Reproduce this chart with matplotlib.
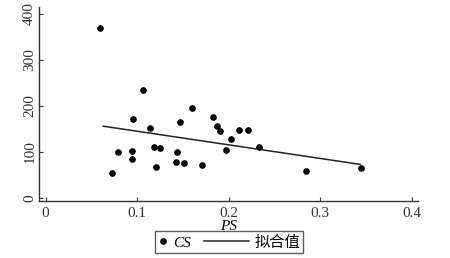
import numpy as np
import matplotlib
matplotlib.use('Agg')
import matplotlib.pyplot as plt
from matplotlib.lines import Line2D
from matplotlib.legend_handler import HandlerLine2D

# CS vs PS scatter values
ps = [0.060, 0.073, 0.079, 0.095, 0.095, 0.096, 0.106, 0.114, 0.119, 0.125,
      0.121, 0.144, 0.143, 0.151, 0.171, 0.147, 0.160, 0.183, 0.187, 0.191,
      0.212, 0.221, 0.203, 0.197, 0.233, 0.285, 0.345]
cs = [370, 54, 99, 103, 84, 172, 235, 153, 110, 108,
      68, 100, 78, 77, 72, 165, 196, 175, 157, 146,
      147, 147, 128, 104, 110, 59, 65]

# fitted line end points
fit_x = [0.063, 0.344]
fit_y = [156, 73]

x_ticks = [0, 0.1, 0.2, 0.3, 0.4]
x_labels = ['0', '0.1', '0.2', '0.3', '0.4']
y_ticks = [0, 100, 200, 300, 400]


# legend line handle that reaches back into the column gap (long line, short dot)
class WideLine(HandlerLine2D):
    def create_artists(self, legend, orig_handle, xdescent, ydescent,
                       width, height, fontsize, trans):
        ext = 2.3 * fontsize
        y = (height - ydescent) / 2
        ln = Line2D([-xdescent - ext, -xdescent + width], [y, y],
                    color=orig_handle.get_color(),
                    linewidth=orig_handle.get_linewidth())
        ln.set_transform(trans)
        return [ln]


plt.rcParams['font.family'] = ['Liberation Serif', 'Noto Sans CJK SC']

fig = plt.figure(figsize=(4.5, 2.58), dpi=100)
ax = fig.add_axes([0.0867, 0.221, 0.842, 0.752])

pts, = ax.plot(ps, cs, linestyle='none', marker='o', markersize=3.8,
               color='black', label='CS', zorder=3)
fit, = ax.plot(fit_x, fit_y, color='#222222', linewidth=1.1, label='拟合值')

ax.set_xlim(-0.0071, 0.407)
ax.set_ylim(-6.5, 415)
ax.set_xticks(x_ticks)
ax.set_xticklabels(x_labels)
ax.set_yticks(y_ticks)
ax.set_yticklabels([str(v) for v in y_ticks], rotation=90, va='center')
ax.tick_params(direction='in', length=3, labelsize=11, colors='#333333')
ax.tick_params(axis='x', pad=4)
ax.tick_params(axis='y', pad=2)

for s in ['top', 'right']:
    ax.spines[s].set_visible(False)
for s in ['left', 'bottom']:
    ax.spines[s].set_color('#333333')
    ax.spines[s].set_linewidth(1.0)

ax.set_xlabel('PS', fontsize=11, style='italic', labelpad=0)

leg = fig.legend(handles=[pts, fit], loc='center',
                 bbox_to_anchor=(0.509, 0.062), ncol=2,
                 frameon=True, fancybox=False, edgecolor='#333333',
                 fontsize=11, handlelength=0.7, handletextpad=0.35,
                 columnspacing=3.1, borderpad=0.15, borderaxespad=0,
                 handler_map={fit: WideLine()})
leg.get_frame().set_linewidth(1.0)
leg.get_texts()[0].set_style('italic')
leg.get_texts()[1].set_family(['Noto Sans CJK SC'])
leg.get_texts()[1].set_fontsize(11)

fig.savefig('out.png', dpi=100)
